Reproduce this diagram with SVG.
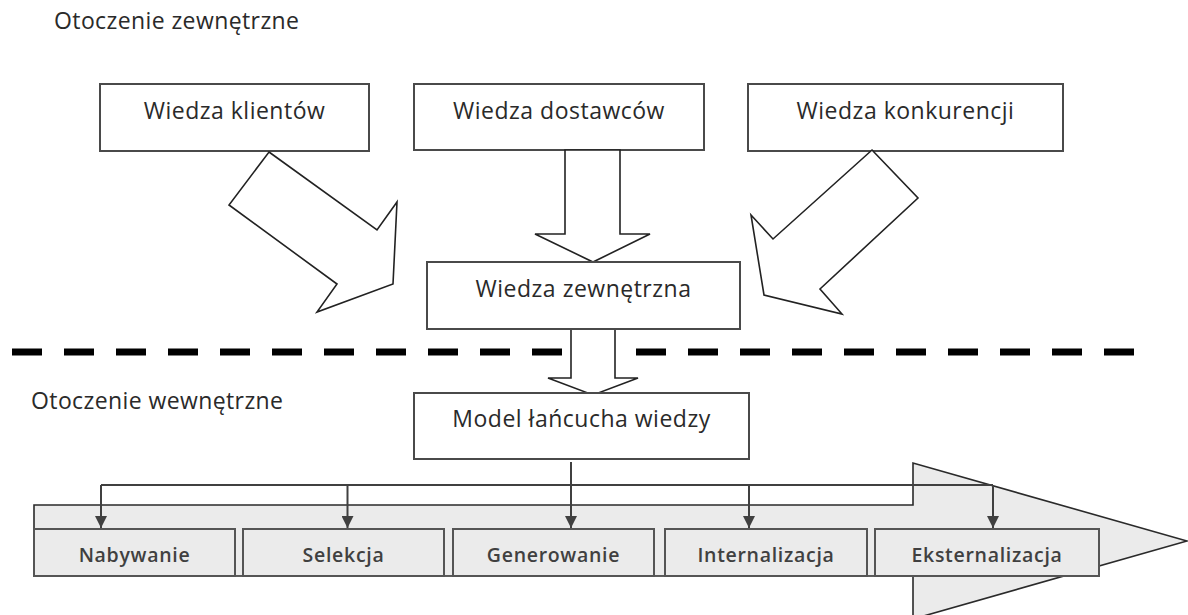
<svg xmlns="http://www.w3.org/2000/svg" width="1188" height="615" viewBox="0 0 1188 615">
<style>
.bg{fill:#ffffff}
.box{fill:#ffffff;stroke:#4a4a4a;stroke-width:2}
.lbl{font-family:"Open Sans","Noto Sans",sans-serif;font-size:23px;letter-spacing:0.5px;fill:#2a2a2a;text-anchor:middle}
.ttl{font-family:"Open Sans","Noto Sans",sans-serif;font-size:23px;letter-spacing:0.4px;fill:#2a2a2a}
.blk{fill:#ffffff;stroke:#222222;stroke-width:1.6;stroke-linejoin:miter}
.band{fill:#ebebeb;stroke:#2a2a2a;stroke-width:1.6}
.step{fill:#ebebeb;stroke:#555555;stroke-width:2}
.slbl{font-family:"Open Sans","Noto Sans",sans-serif;font-size:19.5px;font-weight:600;letter-spacing:0.7px;fill:#404040;text-anchor:middle}
.conn{fill:none;stroke:#404040;stroke-width:2}
.dash{stroke:#000000;stroke-width:7;stroke-dasharray:30 22;fill:none}
</style>
<defs>
<marker id="ah" viewBox="0 0 10 10" refX="10" refY="5" markerWidth="12" markerHeight="12" markerUnits="userSpaceOnUse" orient="auto">
<path d="M0,0 L10,5 L0,10 z" fill="#404040"/>
</marker>
</defs>
<rect class="bg" x="0" y="0" width="1188" height="615"/>

<text class="ttl" x="54" y="29">Otoczenie zewnętrzne</text>
<text class="ttl" x="31" y="409">Otoczenie wewnętrzne</text>

<g id="wiedza-klientow">
<rect class="box" x="100" y="84" width="269" height="67"/>
<text class="lbl" x="234.5" y="119">Wiedza klientów</text>
</g>
<g id="wiedza-dostawcow">
<rect class="box" x="414" y="84" width="290" height="66"/>
<text class="lbl" x="559" y="119">Wiedza dostawców</text>
</g>
<g id="wiedza-konkurencji">
<rect class="box" x="748" y="84" width="315" height="67"/>
<text class="lbl" x="905.5" y="119">Wiedza konkurencji</text>
</g>

<line class="dash" x1="12" y1="352" x2="1134" y2="352"/>

<g id="block-arrows">
<polygon class="blk" points="269,152 377,230 397,202 393,284 317,312 337,284 229,205"/>
<polygon class="blk" points="872,150 918,198 820,289 842,314 764,295 751,215 773,239"/>
<polygon class="blk" points="565,150 620,150 620,234 650,234 593,262 535,234 565,234"/>
<polygon class="blk" points="571,329 615,329 615,378 638,378 593,395 548,378 571,378"/>
</g>

<g id="wiedza-zewnetrzna">
<rect class="box" x="427" y="262" width="313" height="67"/>
<text class="lbl" x="583.5" y="297">Wiedza zewnętrzna</text>
</g>
<g id="model">
<rect class="box" x="414" y="393" width="335" height="66"/>
<text class="lbl" x="581.5" y="427">Model łańcucha wiedzy</text>
</g>

<g id="lancuch">
<path class="band" d="M34,505 L913,505 L913,463 L1187,541 L913,619 L913,576 L34,576 Z"/>
</g>
<g id="nabywanie">
<rect class="step" x="34" y="529" width="201" height="47"/>
<text class="slbl" x="134.5" y="562">Nabywanie</text>
</g>
<g id="selekcja">
<rect class="step" x="243" y="529" width="201" height="47"/>
<text class="slbl" x="343.5" y="562">Selekcja</text>
</g>
<g id="generowanie">
<rect class="step" x="453" y="529" width="201" height="47"/>
<text class="slbl" x="553.5" y="562">Generowanie</text>
</g>
<g id="internalizacja">
<rect class="step" x="665" y="529" width="202" height="47"/>
<text class="slbl" x="766" y="562">Internalizacja</text>
</g>
<g id="eksternalizacja">
<rect class="step" x="875" y="529" width="224" height="47"/>
<text class="slbl" x="987" y="562">Eksternalizacja</text>
</g>

<g id="connectors">
<line class="conn" x1="101" y1="485" x2="993" y2="485"/>
<line class="conn" x1="571" y1="462" x2="571" y2="528" marker-end="url(#ah)"/>
<line class="conn" x1="101" y1="485" x2="101" y2="528" marker-end="url(#ah)"/>
<line class="conn" x1="347.5" y1="485" x2="347.5" y2="528" marker-end="url(#ah)"/>
<line class="conn" x1="749" y1="485" x2="749" y2="528" marker-end="url(#ah)"/>
<line class="conn" x1="993" y1="485" x2="993" y2="528" marker-end="url(#ah)"/>
</g>
</svg>
